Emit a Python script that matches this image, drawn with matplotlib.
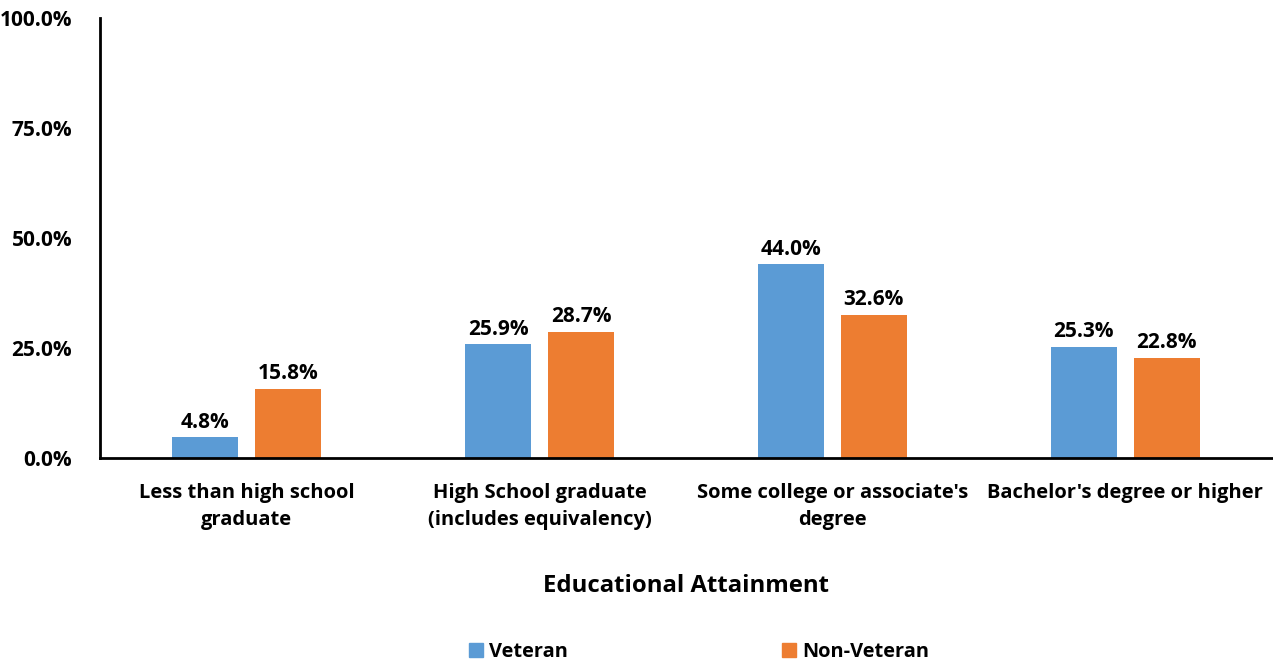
import matplotlib
matplotlib.use("Agg")
import matplotlib.pyplot as plt
import numpy as np
from matplotlib.patches import Patch

categories = ["Less than high school\ngraduate", "High School graduate\n(includes equivalency)",
              "Some college or associate's\ndegree", "Bachelor's degree or higher"]
veteran = [4.8, 25.9, 44.0, 25.3]
non_veteran = [15.8, 28.7, 32.6, 22.8]
series_names = ["Veteran", "Non-Veteran"]
yticks = [0, 25, 50, 75, 100]

blue = "#5B9BD5"
orange = "#ED7D31"
plt.rcParams['font.family'] = ['Open Sans', 'DejaVu Sans']
plt.rcParams['font.weight'] = 'bold'

fig = plt.figure(figsize=(12.73, 6.63), dpi=100)
ax = fig.add_axes([0.0786, 0.309, 0.9205, 0.664])

x = np.arange(len(categories))
w = 0.225
off = 0.1416
b1 = ax.bar(x - off, veteran, w, color=blue)
b2 = ax.bar(x + off, non_veteran, w, color=orange)
fs_num = 15
fs_cat = 14.5
for bars, vals in ((b1, veteran), (b2, non_veteran)):
    for r, v in zip(bars, vals):
        ax.text(r.get_x() + r.get_width() / 2, v + 1.0, f"{v:.1f}%", ha="center", va="bottom",
                fontsize=fs_num, fontweight="bold", color="black")

ax.set_xlim(-0.5, len(categories) - 0.5)
ax.set_ylim(0, 100)
ax.set_yticks(yticks)
ax.set_yticklabels([f"{t:.1f}%" for t in yticks], fontsize=fs_num, fontweight="bold")
ax.set_xticks(x)
ax.set_xticklabels(categories, fontsize=fs_cat, fontweight="bold", linespacing=1.45)
ax.tick_params(axis="x", length=0, pad=18)
ax.tick_params(axis="y", length=0, pad=20)
for s in ("top", "right"):
    ax.spines[s].set_visible(False)
for s in ("left", "bottom"):
    ax.spines[s].set_linewidth(2)
ax.set_xlabel("Educational Attainment", fontsize=17.2, fontweight="bold", labelpad=32)

handles = [Patch(color=blue), Patch(color=orange)]
fig.legend(handles, series_names, loc="center", bbox_to_anchor=(0.549, 0.017), ncol=2, frameon=False,
           handlelength=0.7, handleheight=0.7, handletextpad=0.3, columnspacing=10.7,
           prop={'weight': 'bold', 'size': 14.4})

fig.savefig("out.png", dpi=100)
